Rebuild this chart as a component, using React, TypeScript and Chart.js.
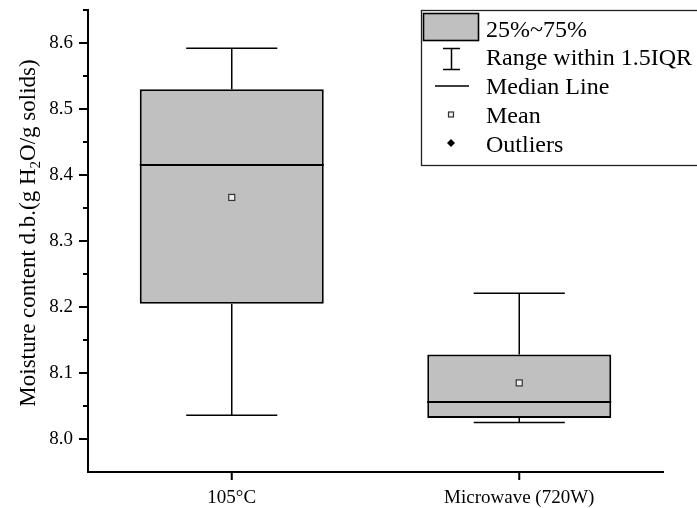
import React, { useEffect, useRef } from "react";
import { Chart, registerables } from "chart.js";

Chart.register(...registerables);

// Box-plot summary per drying method
const categories = ["105°C", "Microwave (720W)"];
const q1Values = [8.205, 8.032];
const q3Values = [8.53, 8.128];
const medianValues = [8.415, 8.056];
const meanValues = [8.366, 8.085];
const whiskerLow = [8.036, 8.025];
const whiskerHigh = [8.592, 8.221];

// Y axis
const yMin = 7.95;
const yMax = 8.65;
const yMajorTicks = [8.0, 8.1, 8.2, 8.3, 8.4, 8.5, 8.6];
const yMinorTicks = [8.05, 8.15, 8.25, 8.35, 8.45, 8.55, 8.65];

const titleParts = ["Moisture content d.b.(g H", "2", "O/g solids)"];
const legendLabels = ["25%~75%", "Range within 1.5IQR", "Median Line", "Mean", "Outliers"];

const FONT = "'Liberation Serif', 'Times New Roman', serif";
const BOX_FILL = "#c0c0c0";

const boxDetails = {
  id: "boxDetails",
  afterDatasetsDraw(chart: any) {
    const ctx = chart.ctx;
    const y = chart.scales.y;
    const meta = chart.getDatasetMeta(0);
    ctx.save();
    meta.data.forEach((bar: any, i: number) => {
      const { x, width } = bar.getProps(["x", "width"], true);
      const cap = width * 0.495;
      const yQ1 = y.getPixelForValue(q1Values[i]);
      const yQ3 = y.getPixelForValue(q3Values[i]);
      const yHi = y.getPixelForValue(whiskerHigh[i]);
      const yLo = y.getPixelForValue(whiskerLow[i]);
      ctx.strokeStyle = "#000";
      ctx.lineWidth = 1.5;
      ctx.beginPath();
      ctx.moveTo(x, yQ3);
      ctx.lineTo(x, yHi);
      ctx.moveTo(x - cap / 2, yHi);
      ctx.lineTo(x + cap / 2, yHi);
      ctx.moveTo(x, yQ1);
      ctx.lineTo(x, yLo);
      ctx.moveTo(x - cap / 2, yLo);
      ctx.lineTo(x + cap / 2, yLo);
      ctx.stroke();

      // median
      const yMed = y.getPixelForValue(medianValues[i]);
      ctx.lineWidth = 2;
      ctx.beginPath();
      ctx.moveTo(x - width / 2, yMed);
      ctx.lineTo(x + width / 2, yMed);
      ctx.stroke();

      // mean
      const yMean = y.getPixelForValue(meanValues[i]);
      ctx.fillStyle = "#eeeeee";
      ctx.strokeStyle = "#333";
      ctx.lineWidth = 1.2;
      ctx.fillRect(x - 3, yMean - 3, 6, 6);
      ctx.strokeRect(x - 3, yMean - 3, 6, 6);
    });
    ctx.restore();
  },
};

const decorations = {
  id: "decorations",
  afterDraw(chart: any) {
    const ctx = chart.ctx;
    const { x: xs, y: ys } = chart.scales;
    const area = chart.chartArea;
    ctx.save();
    ctx.strokeStyle = "#000";
    ctx.lineWidth = 2;

    // y ticks, outward
    ctx.beginPath();
    yMajorTicks.forEach((v) => {
      const py = ys.getPixelForValue(v);
      ctx.moveTo(area.left - 9, py);
      ctx.lineTo(area.left, py);
    });
    yMinorTicks.forEach((v) => {
      const py = ys.getPixelForValue(v);
      ctx.moveTo(area.left - 5, py);
      ctx.lineTo(area.left, py);
    });
    // x ticks at category centres
    categories.forEach((_, i) => {
      const px = xs.getPixelForTick(i);
      ctx.moveTo(px, area.bottom);
      ctx.lineTo(px, area.bottom + 8);
    });
    ctx.stroke();

    // y axis title with subscript
    const mainFont = `23px ${FONT}`;
    const subFont = `15px ${FONT}`;
    ctx.font = mainFont;
    const w0 = ctx.measureText(titleParts[0]).width;
    const w2 = ctx.measureText(titleParts[2]).width;
    ctx.font = subFont;
    const w1 = ctx.measureText(titleParts[1]).width;
    const total = w0 + w1 + w2;
    ctx.translate(35, 233);
    ctx.rotate(-Math.PI / 2);
    ctx.fillStyle = "#000";
    ctx.textBaseline = "alphabetic";
    ctx.textAlign = "left";
    let cx = -total / 2;
    ctx.font = mainFont;
    ctx.fillText(titleParts[0], cx, 0);
    cx += w0;
    ctx.font = subFont;
    ctx.fillText(titleParts[1], cx, 5);
    cx += w1;
    ctx.font = mainFont;
    ctx.fillText(titleParts[2], cx, 0);
    ctx.setTransform(1, 0, 0, 1, 0, 0);

    // legend
    ctx.fillStyle = "#fff";
    ctx.fillRect(421, 10, 300, 155);
    ctx.strokeStyle = "#222";
    ctx.lineWidth = 1.3;
    ctx.strokeRect(421.5, 10.5, 300, 155);

    ctx.strokeStyle = "#000";
    ctx.fillStyle = BOX_FILL;
    ctx.lineWidth = 1.6;
    ctx.fillRect(423.5, 13.5, 55, 27);
    ctx.strokeRect(423.5, 13.5, 55, 27);

    ctx.lineWidth = 1.5;
    ctx.beginPath();
    ctx.moveTo(451.5, 48.5);
    ctx.lineTo(451.5, 69.5);
    ctx.moveTo(443, 48.5);
    ctx.lineTo(460, 48.5);
    ctx.moveTo(443, 69.5);
    ctx.lineTo(460, 69.5);
    ctx.moveTo(435, 86);
    ctx.lineTo(469, 86);
    ctx.stroke();

    ctx.fillStyle = "#eeeeee";
    ctx.strokeStyle = "#333";
    ctx.lineWidth = 1.2;
    ctx.fillRect(448.5, 112, 5, 5);
    ctx.strokeRect(448.5, 112, 5, 5);

    ctx.fillStyle = "#000";
    ctx.beginPath();
    ctx.moveTo(451, 139);
    ctx.lineTo(455, 143);
    ctx.lineTo(451, 147);
    ctx.lineTo(447, 143);
    ctx.closePath();
    ctx.fill();

    ctx.font = `24px ${FONT}`;
    ctx.textAlign = "left";
    ctx.textBaseline = "alphabetic";
    const baselines = [36.5, 65, 94.3, 123.3, 152.3];
    legendLabels.forEach((t, i) => ctx.fillText(t, 486, baselines[i]));
    ctx.restore();
  },
};

export default function App() {
  const canvasRef = useRef<HTMLCanvasElement | null>(null);

  useEffect(() => {
    if (!canvasRef.current) return;
    const chart = new Chart(canvasRef.current, {
      type: "bar",
      data: {
        labels: categories,
        datasets: [
          {
            data: categories.map((_, i) => [q1Values[i], q3Values[i]]) as any,
            backgroundColor: BOX_FILL,
            borderColor: "#000",
            borderWidth: 2,
            borderSkipped: false,
            categoryPercentage: 0.8,
            barPercentage: 0.8,
          },
        ],
      },
      options: {
        responsive: false,
        animation: false,
        devicePixelRatio: 1,
        layout: { padding: { left: 0, right: 34, top: 10, bottom: 0 } },
        plugins: { legend: { display: false }, tooltip: { enabled: false } },
        scales: {
          x: {
            grid: { display: false, drawTicks: false },
            border: { display: true, color: "#000", width: 2 },
            ticks: { color: "#000", font: { family: FONT, size: 19 }, padding: 15, maxRotation: 0, autoSkip: false },
            afterFit: (s: any) => {
              s.height = 36;
              s.paddingLeft = 0;
              s.paddingRight = 0;
            },
          },
          y: {
            min: yMin,
            max: yMax,
            grid: { display: false, drawTicks: false },
            border: { display: true, color: "#000", width: 2 },
            ticks: {
              color: "#000",
              font: { family: FONT, size: 19 },
              padding: 15,
              callback: (v: any) => Number(v).toFixed(1),
            },
            afterBuildTicks: (s: any) => {
              s.ticks = yMajorTicks.map((v) => ({ value: v }));
            },
            afterFit: (s: any) => {
              s.width = 88;
              s.paddingTop = 0;
              s.paddingBottom = 0;
            },
          },
        },
      },
      plugins: [boxDetails, decorations],
    });
    return () => chart.destroy();
  }, []);

  return (
    <div style={{ position: "absolute", left: 0, top: 0, width: 697, height: 508, background: "#fff" }}>
      <canvas ref={canvasRef} width={697} height={508} style={{ display: "block" }} />
    </div>
  );
}
